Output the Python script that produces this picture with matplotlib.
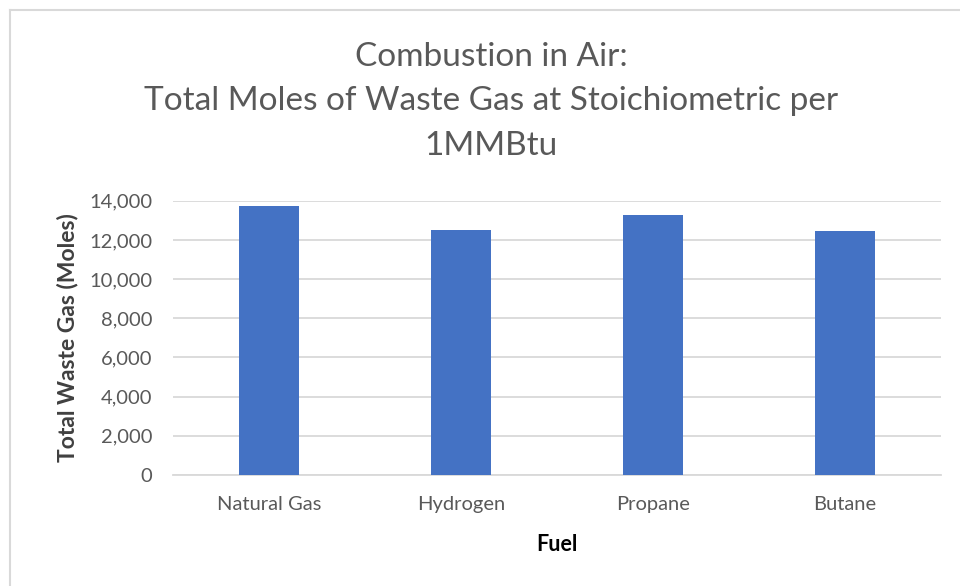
import matplotlib
matplotlib.use("Agg")
import matplotlib.pyplot as plt
from matplotlib.ticker import FuncFormatter
from matplotlib.lines import Line2D

categories = ["Natural Gas", "Hydrogen", "Propane", "Butane"]
values = [13750, 12510, 13290, 12440]
yticks = [0, 2000, 4000, 6000, 8000, 10000, 12000, 14000]

plt.rcParams['font.family'] = ['Lato', 'DejaVu Sans']

fig = plt.figure(figsize=(9.6, 5.86), dpi=100)
ax = fig.add_axes([173/960, 1-475/586, (941-173)/960, (475-200.7)/586])

x = range(len(categories))
ax.bar(x, values, width=0.31, color="#4472C4", zorder=3)
ax.set_xlim(-0.5, len(categories)-0.5)
ax.set_ylim(0, 14000)
ax.set_yticks(yticks)
ax.yaxis.set_major_formatter(FuncFormatter(lambda v, p: f"{int(v):,}"))
ax.set_xticks(list(x))
ax.set_xticklabels(categories)
ax.grid(axis='y', color="#d9d9d9", linewidth=1.3, zorder=0)
for s in ['top', 'right', 'left']:
    ax.spines[s].set_visible(False)
ax.spines['bottom'].set_color("#d9d9d9")
ax.spines['bottom'].set_linewidth(1.3)
ax.tick_params(axis='both', length=0, labelsize=14.5, labelcolor="#595959")
ax.tick_params(axis='y', pad=15)
ax.tick_params(axis='x', pad=15)

ax.set_ylabel("Total Waste Gas (Moles)", fontsize=16.5, fontweight='bold', color="#404040", labelpad=8)
ax.set_xlabel("Fuel", fontsize=15.5, fontweight='bold', color="#000000", labelpad=15)

title_lines = ["Combustion in Air:", "Total Moles of Waste Gas at Stoichiometric per", "1MMBtu"]
title_y = [57, 101, 146]
for t, yy in zip(title_lines, title_y):
    fig.text(491/960, 1-yy/586, t, ha='center', va='center', fontsize=24, color="#595959")

# chart border (top and left visible, rest cropped)
fig.add_artist(Line2D([10/960, 10/960], [0, 1-10/586], transform=fig.transFigure, color="#d9d9d9", linewidth=1.5))
fig.add_artist(Line2D([10/960, 1], [1-10/586, 1-10/586], transform=fig.transFigure, color="#d9d9d9", linewidth=1.5))

fig.savefig("out.png", dpi=100, facecolor="white")
